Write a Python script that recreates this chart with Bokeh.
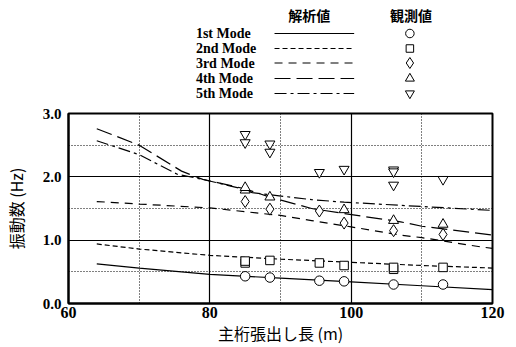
from bokeh.plotting import figure
from bokeh.models import Range1d, FixedTicker, NumeralTickFormatter
from bokeh.layouts import column
from bokeh.embed import file_html
from bokeh.resources import INLINE
from bokeh.core.properties import value

# ---------------- data ----------------
mode_names = ["1st Mode", "2nd Mode", "3rd Mode", "4th Mode", "5th Mode"]
legend_headers = ["解析値", "観測値"]

x_ticks = [60, 80, 100, 120]
x_minor = [70, 90, 110]
y_ticks = [0.0, 1.0, 2.0, 3.0]
y_minor = [0.5, 1.5, 2.5]

# analytic curves (解析値)
m1_x = [64, 70, 80, 90, 100, 110, 120]
m1_y = [0.625, 0.56, 0.46, 0.40, 0.34, 0.28, 0.22]
m2_x = [64, 70, 80, 90, 100, 110, 120]
m2_y = [0.94, 0.86, 0.76, 0.70, 0.65, 0.60, 0.56]
m3_x = [64, 70, 80, 85, 90, 94.4, 100, 107, 110, 118, 120]
m3_y = [1.61, 1.57, 1.51, 1.45, 1.39, 1.31, 1.21, 1.08, 1.04, 0.90, 0.87]
m4_x = [64, 70, 76, 79, 85, 88.5, 94.4, 99, 107, 110, 120]
m4_y = [2.76, 2.50, 2.09, 1.96, 1.81, 1.68, 1.50, 1.42, 1.29, 1.22, 1.08]
m5_x = [64, 70, 75.4, 79, 85, 86, 94.4, 99, 107, 120]
m5_y = [2.57, 2.35, 2.04, 1.96, 1.80, 1.75, 1.64, 1.60, 1.55, 1.47]

# observed values (観測値)
o1_x = [85, 88.5, 95.5, 99, 106, 113]
o1_y = [0.43, 0.41, 0.36, 0.35, 0.30, 0.30]
o2_x = [85, 85, 88.5, 95.5, 99, 106, 106, 113]
o2_y = [0.64, 0.67, 0.68, 0.64, 0.60, 0.54, 0.57, 0.57]
o3_x = [85, 88.5, 95.5, 99, 106, 113]
o3_y = [1.61, 1.49, 1.46, 1.27, 1.15, 1.09]
o4_x = [85, 85, 88.5, 99, 106, 113]
o4_y = [1.79, 1.83, 1.68, 1.48, 1.31, 1.25]
o5_x = [85, 85, 88.5, 88.5, 95.5, 99, 106, 106, 106, 113]
o5_y = [2.67, 2.54, 2.52, 2.39, 2.07, 2.12, 2.11, 2.08, 1.87, 1.96]

curves = [(m1_x, m1_y), (m2_x, m2_y), (m3_x, m3_y), (m4_x, m4_y), (m5_x, m5_y)]
observed = [(o1_x, o1_y), (o2_x, o2_y), (o3_x, o3_y), (o4_x, o4_y), (o5_x, o5_y)]

# ---------------- styles ----------------
dashes = ["solid", "5 3", "8 6", "16 6", "12 4 3 4"]
markers = ["circle", "square", "diamond", "triangle", "inverted_triangle"]
msizes = [9.5, 8.5, 12, 10, 10]
SERIF = "Liberation Serif"
CJK = "Noto Sans CJK JP"

W = 516
H_LEG = 100
H_MAIN = 247
BL, BR = 66, 24  # frame borders shared by both panels (column aligns frames)

# ---------------- legend panel (pixel coordinates) ----------------
leg = figure(width=W, height=H_LEG, x_range=Range1d(BL, W - BR), y_range=Range1d(H_LEG, 0),
             output_backend="svg", toolbar_location=None,
             x_axis_location=None, y_axis_location=None,
             min_border_left=BL, min_border_right=BR, min_border_top=0, min_border_bottom=0)
leg.grid.visible = False
leg.outline_line_color = None

row_y = [33, 48, 62.5, 78, 93]
leg.text(x=[308, 410], y=[14, 14], text=legend_headers, text_font=value(CJK),
         text_font_style="bold", text_font_size="14px", text_align="center",
         text_baseline="middle", text_color="black")
leg.text(x=[194] * 5, y=row_y, text=mode_names, text_font=value(SERIF),
         text_font_style="bold", text_font_size="14px", text_align="left",
         text_baseline="middle", text_color="black")
for i in range(5):
    leg.line([273, 353], [row_y[i], row_y[i]], line_color="black", line_width=1.2,
             line_dash=dashes[i])
    leg.scatter([409], [row_y[i]], marker=markers[i], size=msizes[i] - 1,
                fill_color=None, line_color="black", line_width=1)

# ---------------- main plot ----------------
p = figure(width=W, height=H_MAIN, x_range=Range1d(60, 120), y_range=Range1d(0, 3),
           output_backend="svg", toolbar_location=None,
           min_border_top=13, min_border_left=BL, min_border_right=BR, min_border_bottom=43)

p.outline_line_color = "black"
p.outline_line_width = 2

p.xaxis.ticker = FixedTicker(ticks=x_ticks, minor_ticks=x_minor)
p.yaxis.ticker = FixedTicker(ticks=y_ticks, minor_ticks=y_minor)
p.yaxis.formatter = NumeralTickFormatter(format="0.0")

for ax in (p.xaxis, p.yaxis):
    ax.axis_line_color = "black"
    ax.axis_line_width = 2
    ax.major_tick_in = 0
    ax.major_tick_out = 0
    ax.minor_tick_in = 0
    ax.minor_tick_out = 0
    ax.major_label_text_font = SERIF
    ax.major_label_text_font_style = "bold"
    ax.major_label_text_color = "black"
    ax.axis_label_text_font = CJK
    ax.axis_label_text_font_style = "normal"
    ax.axis_label_text_font_size = "16px"
    ax.axis_label_text_color = "black"

p.xaxis.major_label_text_font_size = "16px"
p.yaxis.major_label_text_font_size = "15px"
p.xaxis.axis_label = "主桁張出し長 (m)"
p.yaxis.axis_label = "振動数 (Hz)"
p.xaxis.major_label_standoff = 3
p.yaxis.major_label_standoff = 7
p.xaxis.axis_label_standoff = 0
p.yaxis.axis_label_standoff = 12

for g in (p.xgrid, p.ygrid):
    g.grid_line_color = "black"
    g.grid_line_width = 1.2
    g.minor_grid_line_color = "black"
    g.minor_grid_line_width = 1
    g.minor_grid_line_dash = "1 2"

for i in range(5):
    cx, cy = curves[i]
    p.line(cx, cy, line_color="black", line_width=1.2, line_dash=dashes[i])
for i in range(5):
    ox, oy = observed[i]
    p.scatter(ox, oy, marker=markers[i], size=msizes[i], fill_color="white",
              line_color="black", line_width=1)

layout = column(leg, p, spacing=0)
open("out.html", "w").write(file_html(layout, INLINE))
